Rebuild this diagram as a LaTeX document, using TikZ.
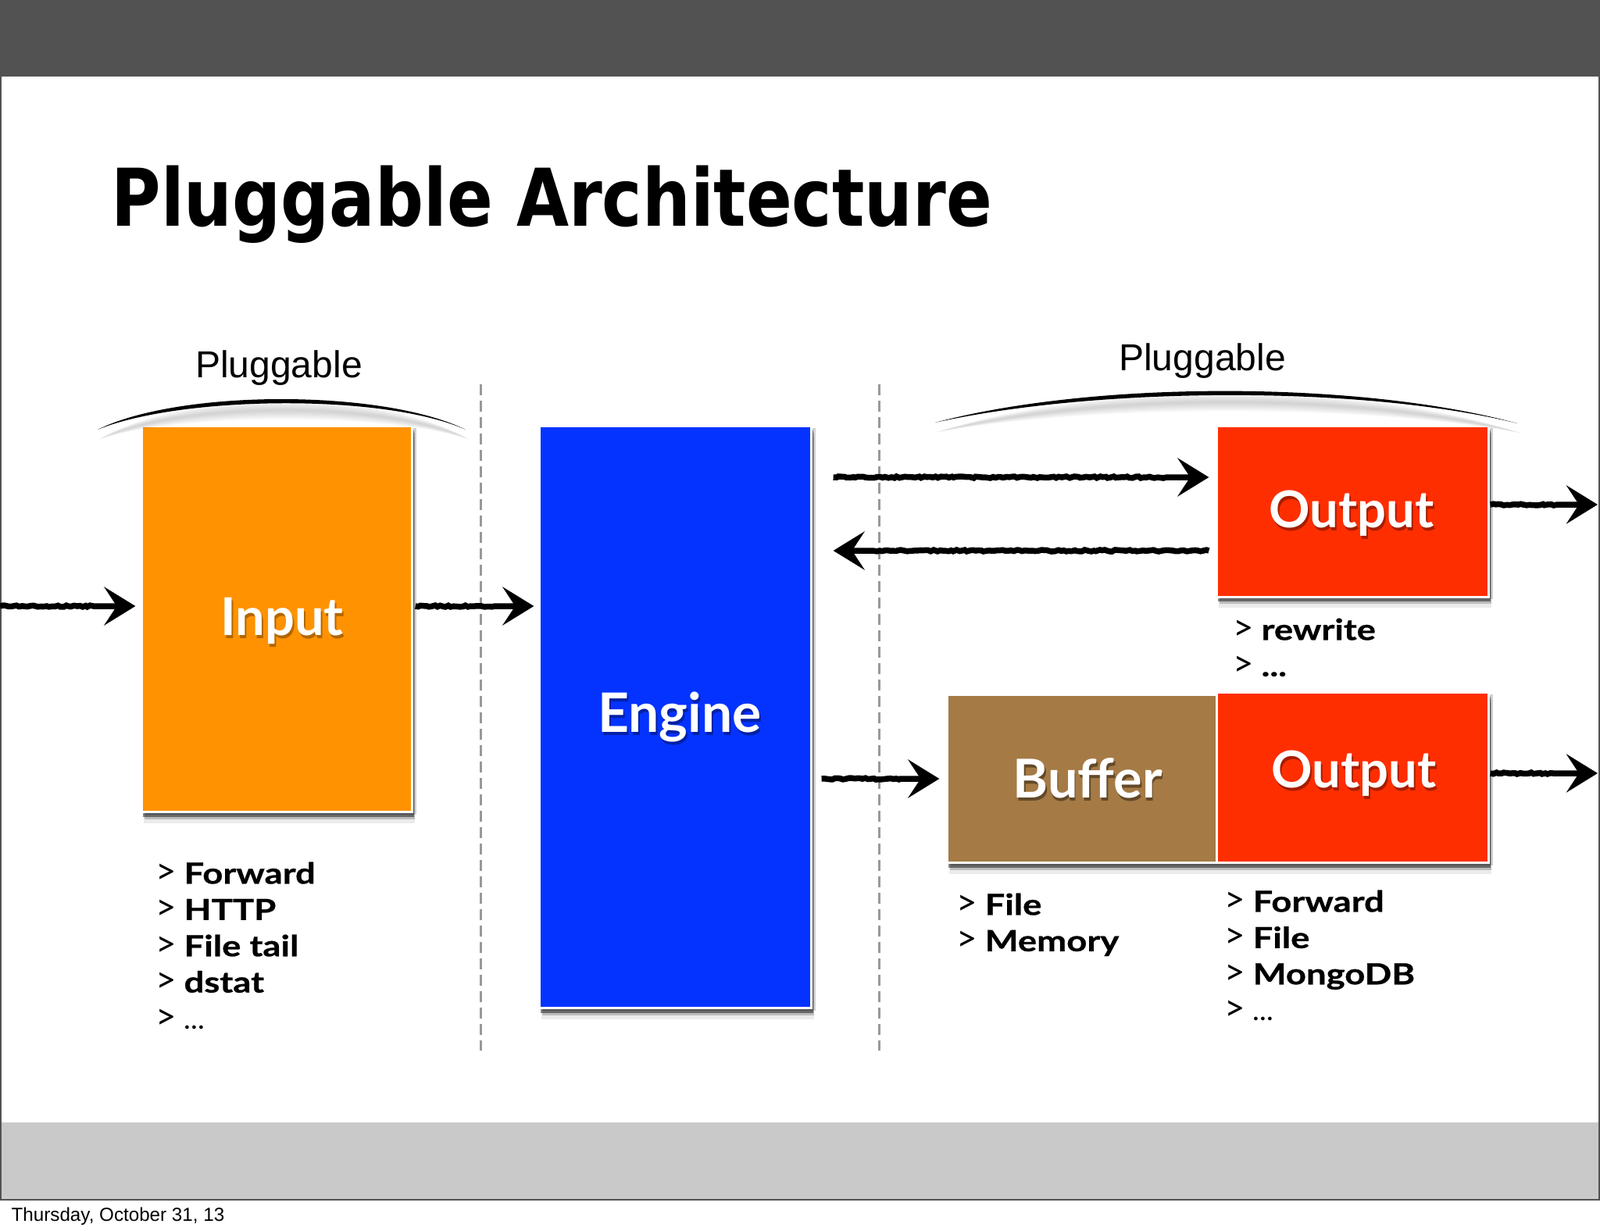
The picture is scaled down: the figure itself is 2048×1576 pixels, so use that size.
\documentclass[tikz,border=0pt]{standalone}
\usepackage{fontspec}
\setmainfont{Liberation Sans}
\newfontfamily\titlefont{DejaVu Sans}[BoldFeatures={FakeStretch=0.85}]
\newfontfamily\gillfont{Lato}
\newfontfamily\listfont{Lato}[BoldFeatures={FakeStretch=1.22,FakeBold=0.7}]
\usetikzlibrary{arrows.meta,calc,decorations.pathmorphing,shadows}
\definecolor{barcol}{HTML}{525252}
\definecolor{bandcol}{HTML}{C9C9C9}
\definecolor{inputcol}{HTML}{FF9200}
\definecolor{enginecol}{HTML}{0433FF}
\definecolor{outputcol}{HTML}{FF2E00}
\definecolor{buffercol}{HTML}{A57A45}
\def\shadetext#1#2{\makebox[0pt][l]{\kern.5pt\raisebox{-1.1pt}{\textcolor{#1}{#2}}}#2}
\def\optmark{\makebox[10.2pt][l]{\fontsize{13}{13.2}\selectfont>}}
\def\optline#1{\optmark\textbf{#1}}
\def\restline{\optmark...}
\def\brusharc(#1)(#2)(#3)(#4){
	\foreach \k in {3,6,...,15}
		\fill[black, opacity=0.035, shift={(3,12)}] (#1) .. controls ($(#2)+(0,-\k)$) and ($(#3)+(0,-\k)$) .. (#4) .. controls ($(#3)+(0,\k)$) and ($(#2)+(0,\k)$) .. (#1);
	\fill[black] (#1) .. controls ($(#2)+(0,-3)$) and ($(#3)+(0,-3)$) .. (#4) .. controls ($(#3)+(0,2)$) and ($(#2)+(0,6)$) .. (#1);
}
\tikzset{
	block/.style={draw=white, line width=0.3mm, inner sep=0, outer sep=0,
		drop shadow={shadow xshift=0.3mm, shadow yshift=-1.4mm, opacity=0.08, fill=black},
		drop shadow={shadow xshift=0.5mm, shadow yshift=-0.3mm, opacity=0.18, fill=black},
		drop shadow={shadow xshift=0.35mm, shadow yshift=-0.9mm, opacity=0.2, fill=black},
		drop shadow={shadow xshift=0.2mm, shadow yshift=-0.6mm, opacity=0.45, fill=black}},
	blocklabel/.style={text=white, inner sep=0, font=\gillfont\bfseries\fontsize{#1}{22}\selectfont},
	blocklabel/.default=18.5,
	brush/.style={line width=0.75mm, black, -{Stealth[length=4mm, width=4.9mm, inset=1.6mm]},
		decorate, decoration={random steps, segment length=1pt, amplitude=0.3pt, post=lineto, post length=5mm}},
	divider/.style={draw=black!40, line width=0.3mm, dash pattern=on 1.4mm off 0.7mm},
	optlist/.style={anchor=north west, align=left, inner sep=0, font=\listfont\fontsize{10.6}{13.2}\selectfont},
	plugtext/.style={inner sep=0, font=\fontsize{13.66}{16}\selectfont}
}
\begin{document}
\begin{tikzpicture}[x=0.01cm, y=-0.01cm]
	\useasboundingbox (0, 0) rectangle (2048, 1576);
	%%%%% FRAME %%%%%
	\fill[bandcol] (0, 1437) rectangle (2048, 1535);
	\draw[barcol, line width=0.2mm] (1, 98) -- (1, 1536) -- (2047, 1536) -- (2047, 98);
	\fill[barcol] (0, 0) rectangle (2048, 98);
	\node[anchor=base west, inner sep=0, font=\titlefont\bfseries\fontsize{29}{34}\selectfont] (title) at (142, 289) {Pluggable Architecture};
	\node[anchor=base west, inner sep=0, font=\fontsize{6.88}{8}\selectfont] (date) at (14, 1563) {Thursday, October 31, 13};

	%%%%% DIVIDERS %%%%%
	\draw[divider] (615.5, 492) -- (615.5, 1345);
	\draw[divider] (1125, 492) -- (1125, 1345);

	%%%%% BLOCKS %%%%%
	\node[block, fill=inputcol, minimum width=34.6mm, minimum height=49.4mm] (input) at (354.5, 792.5) {};
	\node[block, fill=enginecol, minimum width=34.8mm, minimum height=74.5mm] (engine) at (864.5, 918) {};
	\node[block, fill=buffercol, minimum width=34.45mm, minimum height=21.5mm] (buffer) at (1384.7, 997) {};
	\node[block, fill=outputcol, minimum width=34.8mm, minimum height=21.85mm] (outputa) at (1731.5, 654.7) {};
	\node[block, fill=outputcol, minimum width=34.8mm, minimum height=21.8mm] (outputb) at (1731.5, 995.5) {};

	\node[blocklabel=19] (inputlabel) at (361, 797) {\shadetext{inputcol!70!black}{Input}};
	\node[blocklabel=19.8] (enginelabel) at (870, 920) {\shadetext{enginecol!65!black}{Engine}};
	\node[blocklabel=19.5] (bufferlabel) at (1392, 998) {\shadetext{buffercol!60!black}{Buffer}};
	\node[blocklabel] (outputalabel) at (1730, 659) {\shadetext{outputcol!65!black}{Output}};
	\node[blocklabel] (outputblabel) at (1733, 992) {\shadetext{outputcol!65!black}{Output}};

	%%%%% BRACKETS %%%%%
	\node[plugtext] (plugleft) at (357, 471) {Pluggable};
	\node[plugtext] (plugright) at (1539, 462) {Pluggable};
	\brusharc(125, 550)(230, 501)(490, 501)(596, 550)
	\brusharc(1197, 541)(1400, 490)(1740, 490)(1942, 542)

	%%%%% ARROWS %%%%%
	\coordinate (inleft) at (0, 776);
	\coordinate (rowa) at (0, 611);
	\coordinate (rowb) at (0, 705);
	\coordinate (outa) at (2045, 646);
	\coordinate (outb) at (2045, 990);
	\coordinate (rowc) at (0, 997);
	\draw[brush] (inleft) -- ([xshift=-0.8mm]inleft -| input.west);
	\draw[brush] ([xshift=0.4mm]inleft -| input.east) -- ([xshift=-0.7mm]inleft -| engine.west);
	\draw[brush] ([xshift=2.8mm]rowa -| engine.east) -- ([xshift=-1mm]rowa -| outputa.west);
	\draw[brush] ([xshift=-1mm]rowb -| outputa.west) -- ([xshift=2.8mm]rowb -| engine.east);
	\draw[brush] ([xshift=0.2mm]outa -| outputa.east) -- (outa);
	\draw[brush] ([xshift=1.3mm]rowc -| engine.east) -- ([xshift=-1mm]rowc -| buffer.west);
	\draw[brush] ([xshift=0.2mm]outb -| outputb.east) -- (outb);

	%%%%% LISTS %%%%%
	\node[optlist] (inputlist) at (199, 1103) {\optline{Forward}\\\optline{HTTP}\\\optline{File tail}\\\optline{dstat}\\\restline};
	\node[optlist] (rewritelist) at (1578, 791) {\optline{rewrite}\\\optmark\textbf{...}};
	\node[optlist] (bufferlist) at (1224, 1143) {\optline{File}\\\optline{Memory}};
	\node[optlist] (outputlist) at (1567, 1139) {\optline{Forward}\\\optline{File}\\\optline{MongoDB}\\\restline};
\end{tikzpicture}
\end{document}
